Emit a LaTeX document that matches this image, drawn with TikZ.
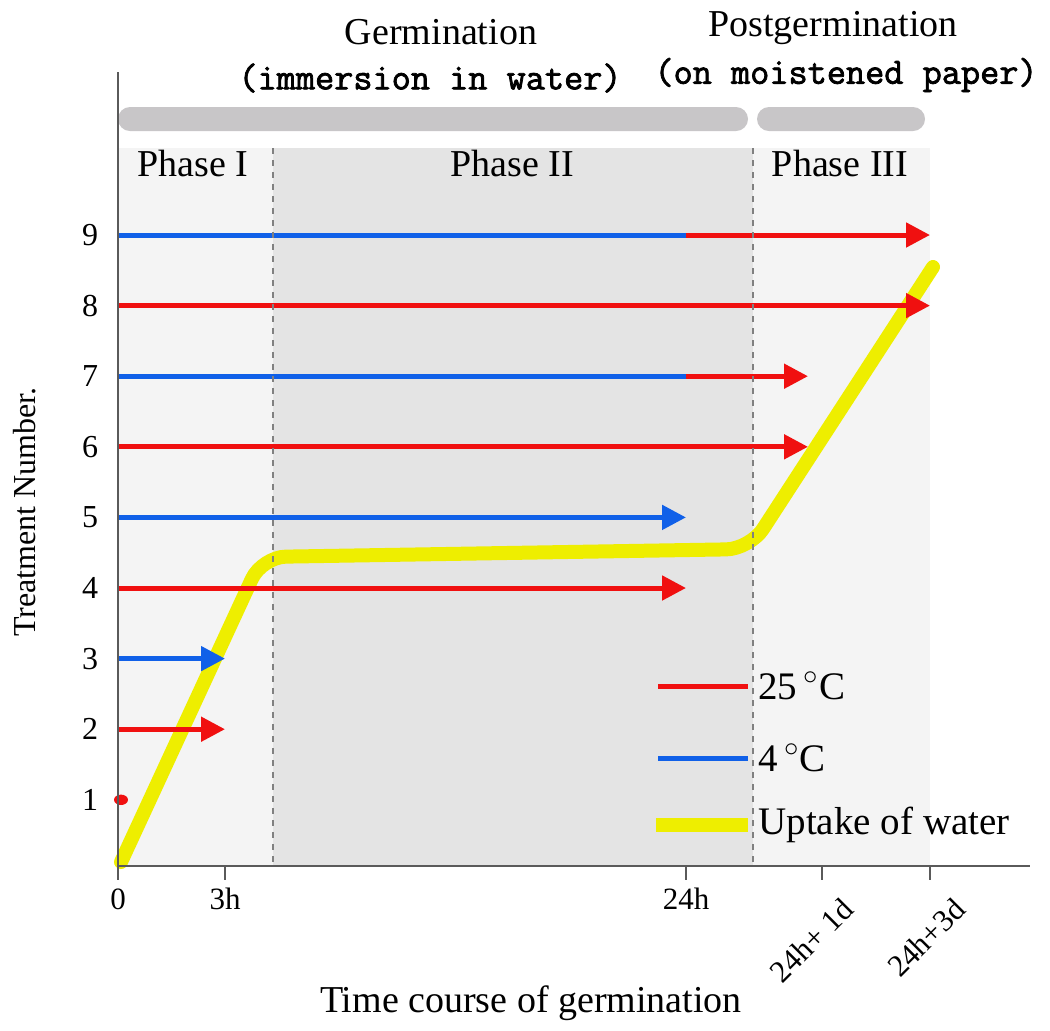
\documentclass[tikz,border=0pt]{standalone}
\usepackage{fontspec}
\setmainfont{Liberation Serif}
\newfontfamily\monofont[FakeBold=2]{Latin Modern Mono}
\usetikzlibrary{arrows.meta}
\definecolor{hot}{RGB}{240,16,16}
\definecolor{cold}{RGB}{16,96,232}
\definecolor{water}{RGB}{238,238,0}
\definecolor{barfill}{RGB}{200,198,200}
\definecolor{lightbg}{RGB}{244,244,244}
\definecolor{darkbg}{RGB}{228,228,228}
\definecolor{axisgray}{RGB}{90,90,90}
\tikzset{
  treat/.style={line width=2.5pt},
  treatarrow/.style={treat, -{Triangle[length=12pt,width=12pt]}},
  uptake/.style={water, line width=7pt, line cap=round, rounded corners=12pt},
  phaseline/.style={gray, dashed, line width=0.8pt},
  txt/.style={inner sep=0pt, font=\fontsize{19}{22}\selectfont},
  heading/.style={inner sep=0pt, font=\fontsize{19}{22}\selectfont},
  subheading/.style={inner sep=0pt, font=\monofont\fontsize{18.6}{21}\selectfont},
  rownum/.style={inner sep=0pt, font=\fontsize{16}{19}\selectfont},
  ticklbl/.style={inner sep=0pt, font=\fontsize{15.5}{18}\selectfont},
  keylbl/.style={inner sep=5pt, anchor=west, font=\fontsize{19.5}{22}\selectfont}
}
\begin{document}
\begin{tikzpicture}[x=0.5pt,y=-0.5pt]
\useasboundingbox (0,0) rectangle (1050,1030);
\fill[white] (0,0) rectangle (1050,1030);

% phases
\fill[lightbg] (118,148) rectangle (273,866);
\fill[darkbg] (273,148) rectangle (753,866);
\fill[lightbg] (753,148) rectangle (930,866);
\fill[barfill, rounded corners=6pt] (118,107) rectangle (748,131);
\fill[barfill, rounded corners=6pt] (757,107) rectangle (925,131);

\node[heading] (germ) at (441,32) {Germination};
\node[subheading] (germsub) at (430,78) {(immersion in water)};
\node[heading] (post) at (833,28) {Postgermination};
\node[subheading] (postsub) at (846,75) {(on moistened paper)};
\node[txt] (ph1) at (193,163) {Phase I};
\node[txt] (ph2) at (512,163) {Phase II};
\node[txt] (ph3) at (840,163) {Phase III};

% time points
\coordinate (t0) at (118,866);
\coordinate (t3h) at (225,866);
\coordinate (t24) at (686,866);
\coordinate (t1d) at (822,866);
\coordinate (t3d) at (930,866);
\coordinate (e1d) at (808,866);

% treatments
\foreach \n in {1,...,9}{
  \coordinate (r\n) at (118,{235+(9-\n)*70.6});
  \node[rownum] (n\n) at (90,{235+(9-\n)*70.6}) {\n};
}

% uptake of water
\draw[uptake] (121,862) -- (262,557) -- (750,549) -- (933,267);

\fill[hot] ([xshift=1.5pt]r1) ellipse (3.5pt and 2.6pt);
\draw[treatarrow,hot] (r2) -- (t3h |- r2);
\draw[treatarrow,cold] (r3) -- (t3h |- r3);
\draw[treatarrow,hot] (r4) -- (t24 |- r4);
\draw[treatarrow,cold] (r5) -- (t24 |- r5);
\draw[treatarrow,hot] (r6) -- (e1d |- r6);
\draw[treat,cold] (r7) -- (t24 |- r7);
\draw[treatarrow,hot] (t24 |- r7) -- (e1d |- r7);
\draw[treatarrow,hot] (r8) -- (t3d |- r8);
\draw[treat,cold] (r9) -- (t24 |- r9);
\draw[treatarrow,hot] (t24 |- r9) -- (t3d |- r9);

\draw[phaseline] (273,148) -- (273,866);
\draw[phaseline] (753,148) -- (753,866);

% legend
\node[keylbl] (hotkey) at (748,686) {25\,$^{\circ}$C};
\node[keylbl] (coldkey) at (748,758) {4\,$^{\circ}$C};
\node[keylbl] (waterkey) at (748,825) {Uptake of water};
\coordinate (hotkeyL) at (658,686);
\coordinate (coldkeyL) at (658,758);
\coordinate (waterkeyL) at (656,825);
\draw[treat,hot] (hotkeyL) -- (hotkey.west);
\draw[treat,cold] (coldkeyL) -- (coldkey.west);
\draw[water, line width=7pt] (waterkeyL) -- (waterkey.west);

% axes
\draw[axisgray, line width=1.2pt] (118,72) -- (t0) -- (1030,866);
\foreach \t in {t0,t3h,t24,t1d,t3d}
  \draw[axisgray, line width=1.2pt] (\t) -- ++(0,14);
\node[ticklbl, anchor=north] (l0) at (118,888) {0};
\node[ticklbl, anchor=north] (l3h) at (225,888) {3h};
\node[ticklbl, anchor=north] (l24) at (686,888) {24h};
\node[ticklbl, rotate=45, anchor=east] (l1d) at (848,904) {24h+ 1d};
\node[ticklbl, rotate=45, anchor=east] (l3d) at (960,904) {24h+3d};
\node[txt] (xlbl) at (531,1003) {Time course of germination};
\node[rownum, rotate=90] (ylbl) at (25,512) {Treatment Number.};
\end{tikzpicture}
\end{document}
